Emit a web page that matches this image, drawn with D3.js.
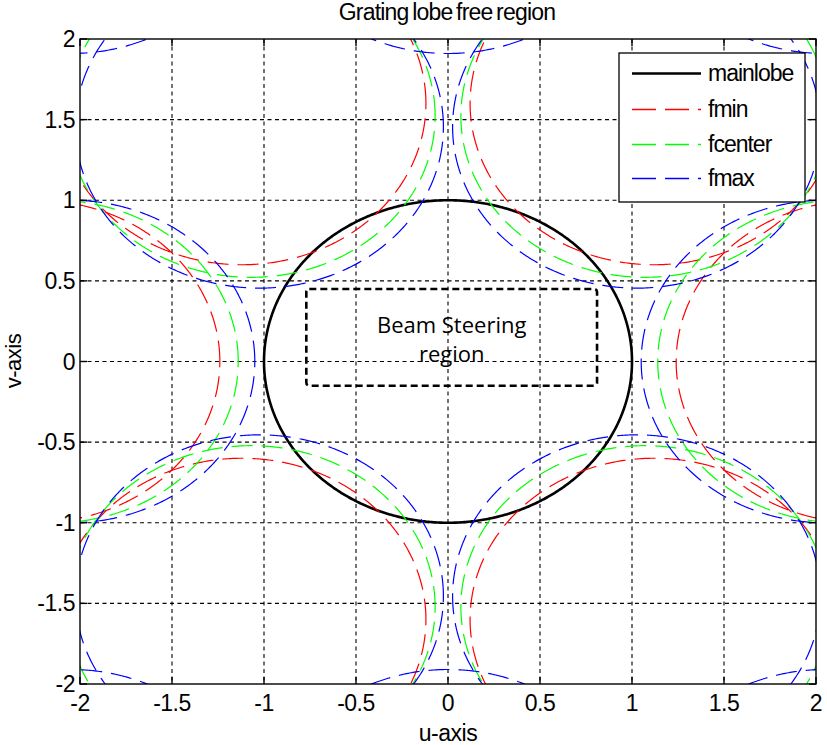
<!DOCTYPE html>
<html>
<head>
<meta charset="utf-8">
<script src="https://cdn.jsdelivr.net/npm/d3@7"></script>
<style>
  html, body { margin: 0; padding: 0; background: #fff; }
  svg { display: block; }
  text { font-family: "Liberation Sans", Arial, sans-serif; fill: #000; }
</style>
</head>
<body>
<svg id="chart" width="827" height="745"></svg>
<script>
// ---------------- data ----------------
const seriesNames = ["fmin", "fcenter", "fmax"];
// grating-lobe lattice spacing in u (between lobes on the u axis) and v (row spacing)
const latticeU = [2.24, 2.14, 2.05];
const latticeV = [1.60, 1.522, 1.455];
const lobeRadius = 1;               // visible-region / main lobe radius
const mainLobeCenter = [0, 0];
const steeringU = [-0.77, 0.81];    // beam steering region
const steeringV = [-0.15, 0.45];
const steeringLabel = ["Beam Steering", "region"];
const xTicks = [-2, -1.5, -1, -0.5, 0, 0.5, 1, 1.5, 2];
const yTicks = [-2, -1.5, -1, -0.5, 0, 0.5, 1, 1.5, 2];
const xDomain = [-2, 2];
const yDomain = [-2, 2];
const titleText = "Grating lobe free region";
const xLabel = "u-axis";
const yLabel = "v-axis";
const legendNames = ["mainlobe", "fmin", "fcenter", "fmax"];

// ---------------- styles ----------------
const seriesColors = ["#ff0000", "#00ff00", "#0000ff"];
const legendColors = ["#000000", "#ff0000", "#00ff00", "#0000ff"];

// ---------------- layout ----------------
const svg = d3.select("#chart");
const plot = { left: 80, right: 816, top: 39, bottom: 684 };
const x = d3.scaleLinear().domain(xDomain).range([plot.left, plot.right]);
const y = d3.scaleLinear().domain(yDomain).range([plot.bottom, plot.top]);

svg.append("rect").attr("width", 827).attr("height", 745).attr("fill", "#fff");

svg.append("defs").append("clipPath").attr("id", "clip")
  .append("rect")
  .attr("x", plot.left).attr("y", plot.top)
  .attr("width", plot.right - plot.left).attr("height", plot.bottom - plot.top);

// grid
const grid = svg.append("g");
grid.selectAll("line.gx").data(xTicks.slice(1, -1)).join("line")
  .attr("x1", d => x(d)).attr("x2", d => x(d))
  .attr("y1", plot.top).attr("y2", plot.bottom)
  .attr("stroke", "#000").attr("stroke-width", 1.1).attr("stroke-dasharray", "4,3.5");
grid.selectAll("line.gy").data(yTicks.slice(1, -1)).join("line")
  .attr("y1", d => y(d)).attr("y2", d => y(d))
  .attr("x1", plot.left).attr("x2", plot.right)
  .attr("stroke", "#000").attr("stroke-width", 1.1).attr("stroke-dasharray", "4,3.5");

// circle path generator via scales
const line = d3.line().x(d => x(d[0])).y(d => y(d[1]));
function circlePts(cx, cy, r) {
  const pts = [];
  const N = 720;
  for (let i = 0; i <= N; i++) {
    const t = (i / N) * 2 * Math.PI;
    pts.push([cx + r * Math.cos(t), cy + r * Math.sin(t)]);
  }
  return pts;
}

const marks = svg.append("g").attr("clip-path", "url(#clip)");

// main lobe
marks.append("path")
  .attr("d", line(circlePts(mainLobeCenter[0], mainLobeCenter[1], lobeRadius)))
  .attr("fill", "none").attr("stroke", "#000").attr("stroke-width", 2.6);

// grating lobes (triangular lattice: (m*a/2, n*b) with m+n even, excluding the main lobe)
seriesNames.forEach((name, s) => {
  const a = latticeU[s], b = latticeV[s];
  const centers = [];
  for (let m = -5; m <= 5; m++) {
    for (let n = -4; n <= 4; n++) {
      if ((m + n) % 2 !== 0) continue;
      if (m === 0 && n === 0) continue;
      centers.push([m * a / 2, n * b]);
    }
  }
  marks.append("g").selectAll("path").data(centers).join("path")
    .attr("d", c => line(circlePts(c[0], c[1], lobeRadius)))
    .attr("fill", "none").attr("stroke", seriesColors[s])
    .attr("stroke-width", 1.2).attr("stroke-dasharray", "21,9");
});

// beam steering region
marks.append("rect")
  .attr("x", x(steeringU[0])).attr("y", y(steeringV[1]))
  .attr("width", x(steeringU[1]) - x(steeringU[0]))
  .attr("height", y(steeringV[0]) - y(steeringV[1]))
  .attr("rx", 3)
  .attr("fill", "none").attr("stroke", "#000").attr("stroke-width", 2.6)
  .attr("stroke-dasharray", "7,4");

const midU = (steeringU[0] + steeringU[1]) / 2;
svg.append("text")
  .attr("x", x(midU)).attr("y", 333)
  .attr("text-anchor", "middle")
  .style("font-family", "'Open Sans', 'Noto Sans', sans-serif")
  .style("font-size", "22px")
  .text(steeringLabel[0]);
svg.append("text")
  .attr("x", x(midU)).attr("y", 362)
  .attr("text-anchor", "middle")
  .style("font-family", "'Open Sans', 'Noto Sans', sans-serif")
  .style("font-size", "22px")
  .text(steeringLabel[1]);

// axes box
svg.append("rect")
  .attr("x", plot.left).attr("y", plot.top)
  .attr("width", plot.right - plot.left).attr("height", plot.bottom - plot.top)
  .attr("fill", "none").attr("stroke", "#000").attr("stroke-width", 1.4);

// ticks (inward, all four sides)
const tl = 7;
const ticks = svg.append("g").attr("stroke", "#000").attr("stroke-width", 1.4);
xTicks.forEach(t => {
  ticks.append("line").attr("x1", x(t)).attr("x2", x(t)).attr("y1", plot.bottom).attr("y2", plot.bottom - tl);
  ticks.append("line").attr("x1", x(t)).attr("x2", x(t)).attr("y1", plot.top).attr("y2", plot.top + tl);
});
yTicks.forEach(t => {
  ticks.append("line").attr("y1", y(t)).attr("y2", y(t)).attr("x1", plot.left).attr("x2", plot.left + tl);
  ticks.append("line").attr("y1", y(t)).attr("y2", y(t)).attr("x1", plot.right).attr("x2", plot.right - tl);
});

// tick labels
svg.append("g").selectAll("text").data(xTicks).join("text")
  .attr("x", d => x(d)).attr("y", 711)
  .attr("text-anchor", "middle")
  .style("font-size", "23px").style("letter-spacing", "-0.5px")
  .text(d => String(d));
svg.append("g").selectAll("text").data(yTicks).join("text")
  .attr("x", 75).attr("y", d => y(d) + 8)
  .attr("text-anchor", "end")
  .style("font-size", "23px").style("letter-spacing", "-0.5px")
  .text(d => String(d));

// title and axis labels
svg.append("text").attr("x", 447).attr("y", 20).attr("text-anchor", "middle")
  .style("font-size", "23px").style("letter-spacing", "-0.8px").style("word-spacing", "-2px")
  .text(titleText);
svg.append("text").attr("x", 448).attr("y", 741).attr("text-anchor", "middle")
  .style("font-size", "23px").style("letter-spacing", "-0.5px")
  .text(xLabel);
svg.append("text")
  .attr("transform", `translate(21, 361) rotate(-90)`)
  .attr("text-anchor", "middle")
  .style("font-size", "22px").style("letter-spacing", "-0.5px")
  .text(yLabel);

// legend
const lg = svg.append("g");
lg.append("rect").attr("x", 619).attr("y", 53).attr("width", 186).attr("height", 149)
  .attr("fill", "#fff").attr("stroke", "#000").attr("stroke-width", 1.3);
const rowY = [73, 109, 144, 178];
legendNames.forEach((nm, i) => {
  lg.append("line").attr("x1", 632).attr("x2", 701).attr("y1", rowY[i] + 0.5).attr("y2", rowY[i] + 0.5)
    .attr("stroke", legendColors[i])
    .attr("stroke-width", i === 0 ? 2.6 : 1.3)
    .attr("stroke-dasharray", i === 0 ? null : "24,9");
  lg.append("text").attr("x", 708).attr("y", rowY[i] + 8)
    .style("font-size", "23px").style("letter-spacing", "-1px")
    .text(nm);
});
</script>
</body>
</html>
